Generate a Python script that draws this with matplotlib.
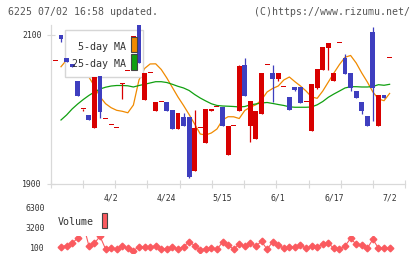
import matplotlib
matplotlib.use("Agg")
import matplotlib.pyplot as plt
import matplotlib.transforms as mtransforms
from matplotlib.patches import Rectangle
import numpy as np

# ---------------- data ----------------
title_left = "6225 07/02 16:58 updated."
title_right = "(C)https://www.rizumu.net/"

day_index = list(range(-1, 60))
opens = [2064.7, 2100.0, 2069.5, 2060.7, 2038.3, 2000.3, 1992.6, 1975.2, 2045.0, 1986.8,
         1978.8, 1974.8, 2034.2, 2051.3, 2085.0, 2116.0, 2012.8, 2048.6, 1998.4, 2010.1,
         2010.1, 1999.3, 1974.2, 1989.5, 1989.5, 1917.8, 1974.8, 1955.4, 1998.4, 2003.0,
         2003.0, 1938.9, 1977.9, 1998.4, 2059.7, 1977.9, 1960.4, 1994.0, 2059.3, 2049.4,
         2040.9, 2029.8, 2017.2, 2030.2, 2030.2, 2010.1, 1971.5, 2028.5, 2053.0, 2082.6,
         2038.7, 2088.9, 2069.1, 2049.0, 2024.8, 2010.1, 1991.3, 2104.0, 1977.9, 2019.5,
         2068.7]
closes = [2064.7, 2094.2, 2063.4, 2057.4, 2018.1, 2000.3, 1985.9, 2044.0, 1996.6, 1986.8,
          1978.8, 1974.8, 2035.2, 2051.3, 2098.5, 2062.8, 2049.4, 2048.6, 2010.5, 2010.1,
          1998.4, 1973.4, 1994.9, 1977.9, 1909.8, 1974.8, 1974.8, 2000.3, 2000.3, 2003.0,
          1977.9, 1977.9, 1977.9, 2058.8, 2018.1, 2011.4, 1998.4, 2049.4, 2059.3, 2040.9,
          2049.4, 2029.8, 1999.3, 2026.6, 2009.1, 2010.1, 2034.2, 2054.4, 2083.9, 2089.3,
          2049.4, 2088.9, 2048.1, 2028.9, 2015.4, 1998.4, 1977.9, 2028.9, 2019.5, 2015.4,
          2068.7]
highs = [2064.7, 2100.0, 2069.5, 2060.7, 2038.3, 2000.3, 1992.6, 2044.0, 2045.0, 1986.8,
         1978.8, 1974.8, 2035.2, 2051.3, 2098.5, 2116.0, 2049.4, 2048.6, 2010.5, 2010.1,
         2010.1, 1999.3, 1994.9, 1995.7, 1989.5, 1998.7, 1974.8, 2000.3, 2000.3, 2003.0,
         2003.0, 1977.9, 1977.9, 2060.0, 2069.5, 2011.4, 1998.4, 2049.4, 2059.3, 2059.7,
         2049.4, 2029.8, 2017.2, 2030.2, 2030.2, 2010.1, 2034.2, 2054.4, 2083.9, 2089.3,
         2049.4, 2088.9, 2074.9, 2049.0, 2024.8, 2010.1, 1991.3, 2110.7, 2019.5, 2019.5,
         2068.7]
lows = [2064.7, 2091.0, 2063.4, 2057.4, 2018.1, 1998.4, 1985.9, 1975.2, 1989.0, 1986.8,
        1978.8, 1974.8, 2014.1, 2051.3, 2085.0, 2062.8, 2012.8, 2048.6, 1998.4, 2010.1,
        1998.4, 1973.4, 1974.2, 1977.9, 1908.0, 1917.8, 1974.8, 1955.4, 1998.4, 2003.0,
        1977.9, 1938.9, 1977.9, 1998.4, 2018.1, 1956.8, 1960.4, 1994.0, 2059.3, 2010.5,
        2038.7, 2029.8, 1999.3, 2025.2, 2009.1, 2010.1, 1971.5, 2027.5, 2053.0, 2053.0,
        2038.7, 2088.9, 2048.1, 2025.2, 2015.4, 1994.0, 1977.9, 1984.6, 1977.9, 2015.4,
        2068.7]

ma_index = list(range(0, 60))
ma5 = [2057.4, 2066.4, 2073.2, 2069.1, 2058.4, 2043.6, 2031.5, 2017.2, 2007.8, 2002.4,
       1998.9, 1997.6, 1995.6, 2006.0, 2039.6, 2055.0, 2061.1, 2061.3, 2053.7, 2042.3,
       2029.5, 2016.8, 2005.4, 1993.3, 1980.5, 1967.1, 1965.8, 1968.5, 1973.8, 1985.9,
       1990.3, 1990.2, 1987.9, 1998.7, 2003.1, 2006.4, 2012.8, 2023.5, 2028.2, 2031.5,
       2039.6, 2043.6, 2037.3, 2031.5, 2024.8, 2016.8, 2015.0, 2024.8, 2036.9, 2049.0,
       2060.4, 2070.1, 2072.5, 2062.4, 2049.0, 2036.9, 2023.5, 2014.1, 2011.8, 2021.5]
ma25 = [1985.9, 1992.6, 2000.7, 2007.4, 2013.4, 2018.8, 2023.5, 2027.5, 2029.9, 2031.5,
        2032.2, 2032.2, 2031.8, 2030.2, 2032.2, 2033.8, 2035.6, 2037.3, 2037.3, 2036.2,
        2033.8, 2031.1, 2028.9, 2025.5, 2020.1, 2015.4, 2011.4, 2007.7, 2005.4, 2004.7,
        2004.4, 2004.0, 2003.4, 2004.0, 2006.3, 2007.4, 2008.7, 2009.4, 2008.1, 2006.7,
        2005.4, 2003.6, 2003.0, 2003.0, 2003.0, 2003.4, 2006.3, 2010.7, 2016.4, 2020.8,
        2024.8, 2028.9, 2030.6, 2030.6, 2030.2, 2030.2, 2030.9, 2033.3, 2032.5, 2033.8]

volume = [770, 920, 1290, 2120, 4240, 920, 1290, 2380, 410, 520,
          410, 920, 520, 150, 770, 670, 670, 920, 410, 410,
          770, 410, 770, 1540, 920, 260, 460, 520, 360, 1450,
          1030, 360, 1140, 880, 1290, 880, 1600, 360, 1500, 1030,
          520, 670, 670, 1030, 520, 880, 770, 1140, 1290, 520,
          360, 880, 2060, 1140, 1030, 520, 1910, 520, 520, 520]

date_labels = ["4/2", "4/24", "5/15", "6/1", "6/17", "7/2"]
date_label_index = [9, 19, 29, 39, 49, 59]
price_ticks = [1900, 2100]
volume_ticks = [100, 3200, 6300]
legend_labels = ["5-day MA", "25-day MA"]

# ---------------- style ----------------
RED = "#d80000"
BLUE = "#3e3ebf"
ORANGE = "#f08a00"
GREEN = "#10a010"
VOLC = "#fa5a5f"
GRID = "#d9d9d9"
TXT = "#333333"
MONO = "DejaVu Sans Mono"

W, H = 420, 259
fig = plt.figure(figsize=(W / 100, H / 100), dpi=100)
fig.patch.set_facecolor("white")

# pixel geometry
x_left, x_right = 50.7, 405.2
p_top, p_bot = 25.0, 184.0
v_top, v_bot = 235.5, 253.0

ax = fig.add_axes([x_left / W, 1 - p_bot / H, (x_right - x_left) / W, (p_bot - p_top) / H])
axv = fig.add_axes([x_left / W, 1 - v_bot / H, (x_right - x_left) / W, (v_bot - v_top) / H])

xmin, xmax = -1.849, 61.80
ax.set_xlim(xmin, xmax)
ax.set_ylim(1900, 2113.4)
axv.set_xlim(xmin, xmax)
axv.set_ylim(-210, 2502)

# ---- candles ----
o = np.array(opens); c = np.array(closes); hi = np.array(highs); lo = np.array(lows)
xi = np.array(day_index)
up = c >= o
cols = np.where(up, RED, BLUE)
bottoms = np.minimum(o, c)
heights = np.maximum(np.abs(c - o), 1.5)
ax.vlines(xi, lo, hi, colors=cols, linewidth=0.9, zorder=4)
ax.bar(xi, heights, bottom=bottoms, width=0.88, color=cols, linewidth=0, zorder=4)

# ---- moving averages ----
ax.plot(ma_index, ma5, color=ORANGE, lw=0.9, zorder=2)
ax.plot(ma_index, ma25, color=GREEN, lw=0.9, zorder=2)

# ---- spines / ticks ----
for s in ["top", "right"]:
    ax.spines[s].set_visible(False)
for s in ["left", "bottom"]:
    ax.spines[s].set_color(GRID)
    ax.spines[s].set_linewidth(0.9)
ax.set_yticks(price_ticks)
ax.set_yticklabels([str(v) for v in price_ticks], fontsize=5.9, family=MONO, color=TXT)
ax.tick_params(axis="y", direction="inout", length=6, width=0.8, color=GRID, pad=3.5)
ax.set_xticks(np.linspace(xmin, xmax, 12))
ax.set_xticklabels([])
ax.tick_params(axis="x", direction="inout", length=6, width=0.8, color=GRID)

trans_x = mtransforms.blended_transform_factory(ax.transData, ax.transAxes)
for idx, lab in zip(date_label_index, date_labels):
    ax.text(idx, -(198.3 - p_bot) / (p_bot - p_top), lab, transform=trans_x,
            ha="center", va="center", fontsize=5.9, family=MONO, color=TXT)

# ---- MA legend ----
def axfrac(px, py):
    return ((px - x_left) / (x_right - x_left), (p_bot - py) / (p_bot - p_top))

lx0, ly0 = axfrac(65.3, 77)
lx1, ly1 = axfrac(143.3, 30)
ax.add_patch(Rectangle((lx0, ly0), lx1 - lx0, ly1 - ly0, transform=ax.transAxes,
                       facecolor="white", edgecolor="#d6d6d6", lw=1.0, zorder=3))
tx, ty1 = axfrac(125.5, 46.5)
_, ty2 = axfrac(125.5, 64)
ax.text(tx, ty1, legend_labels[0], transform=ax.transAxes, ha="right", va="center",
        fontsize=7.2, family=MONO, color=TXT, zorder=6)
ax.text(tx, ty2, legend_labels[1], transform=ax.transAxes, ha="right", va="center",
        fontsize=7.2, family=MONO, color=TXT, zorder=6)
for (yt, yb, col) in [(36.7, 52.3, ORANGE), (54.3, 70.0, GREEN)]:
    sx0, sy0 = axfrac(131.3, yb)
    sx1, sy1 = axfrac(137.3, yt)
    ax.add_patch(Rectangle((sx0, sy0), sx1 - sx0, sy1 - sy0, transform=ax.transAxes,
                           facecolor=col, edgecolor="#444444", lw=0.8, zorder=6, clip_on=False))

# ---- volume ----
axv.plot(ma_index, volume, color=VOLC, lw=0.8, marker="D", ms=3.4, mec=VOLC, mfc=VOLC, zorder=3)
axv.axis("off")
off = mtransforms.ScaledTranslation(0, 2 / 100, fig.dpi_scale_trans)
trans_v = mtransforms.blended_transform_factory(fig.transFigure, axv.transData) + off
for v in volume_ticks:
    fig.text(44.5 / W, v, str(v), transform=trans_v, ha="right", va="center",
             fontsize=5.9, family=MONO, color=TXT)
fig.text(58 / W, 1 - 222 / H, "Volume", ha="left", va="center", fontsize=7.2,
         family=MONO, color=TXT)
fig.patches.append(Rectangle((101.7 / W, 1 - 228 / H), 5.6 / W, 15 / H,
                             transform=fig.transFigure, facecolor=VOLC,
                             edgecolor="#444444", lw=0.8))

# ---- header ----
fig.text(8.3 / W, 1 - 12.3 / H, title_left, ha="left", va="center", fontsize=7.1,
         family=MONO, color="#555555")
fig.text(409.5 / W, 1 - 12.3 / H, title_right, ha="right", va="center", fontsize=7.1,
         family=MONO, color="#555555")

fig.savefig("out.png", dpi=100, facecolor="white")
